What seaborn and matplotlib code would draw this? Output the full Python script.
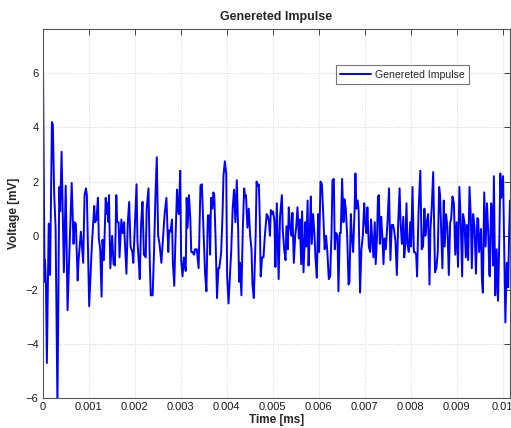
import numpy as np
import pandas as pd
import matplotlib
matplotlib.use("Agg")
import matplotlib.pyplot as plt
import seaborn as sns

# Sample period of the recorded trace (axis is labelled in ms)
dt = 1e-5

# Sample indices of the turning points of the trace
sample = [
    0, 4, 5, 7, 9, 13, 16, 20, 22, 25, 28, 32, 36, 38, 41, 46, 50, 54, 58, 63,
    67, 69, 72, 76, 78, 83, 88, 91, 94, 96, 101, 107, 112, 114, 117, 120, 122, 125, 128, 130,
    133, 137, 139, 141, 143, 144, 147, 151, 154, 157, 160, 162, 165, 167, 171, 174, 177, 178, 182, 185,
    188, 191, 195, 197, 201, 204, 206, 209, 211, 214, 217, 220, 224, 226, 230, 233, 235, 239, 242, 245,
    248, 251, 254, 258, 262, 265, 269, 273, 275, 278, 281, 283, 286, 288, 292, 294, 296, 299, 301, 304,
    307, 308, 311, 313, 315, 318, 321, 323, 326, 329, 331, 335, 339, 343, 346, 350, 353, 356, 359, 362,
    364, 366, 369, 371, 373, 376, 379, 382, 384, 388, 391, 393, 396, 399, 401, 404, 407, 410, 413, 416,
    419, 422, 425, 427, 429, 432, 435, 438, 440, 442, 445, 448, 451, 454, 456, 459, 463, 465, 467, 470,
    472, 474, 477, 480, 483, 487, 490, 492, 494, 496, 499, 501, 504, 506, 509, 513, 516, 520, 522, 525,
    528, 530, 533, 535, 538, 541, 543, 546, 549, 551, 554, 557, 559, 562, 564, 567, 571, 573, 576, 578,
    581, 583, 585, 588, 591, 593, 596, 599, 601, 604, 607, 610, 613, 616, 619, 622, 625, 628, 630, 633,
    635, 638, 641, 643, 646, 648, 651, 654, 656, 659, 662, 665, 667, 670, 672, 675, 678, 680, 682, 685,
    687, 690, 693, 696, 699, 701, 704, 706, 709, 712, 714, 716, 719, 722, 724, 727, 729, 731, 733, 736,
    738, 741, 743, 746, 750, 753, 756, 759, 762, 764, 767, 770, 773, 776, 778, 781, 784, 786, 788, 791,
    793, 796, 799, 801, 804, 807, 809, 812, 814, 817, 821, 824, 827, 830, 832, 835, 838, 841, 843, 846,
    849, 853, 856, 859, 862, 864, 867, 869, 872, 874, 877, 880, 883, 886, 888, 891, 894, 897, 900, 903,
    906, 909, 912, 914, 917, 920, 922, 925, 928, 931, 933, 936, 939, 942, 945, 947, 949, 953, 955, 957,
    960, 963, 966, 969, 971, 972, 975, 977, 979, 981, 984, 987, 990, 993, 995, 997, 999, 1001, 1004, 1006,
    1009, 1012, 1014, 1016,
]

# Voltage in mV at each of those samples
voltage = [
    7.7, -1.7, -0.9, -1.8, -4.7, 0.45, -1.45, 4.2, 4.1, 1.5, 0.3, -6.3, 1.8, 0.9, 3.1, -1.35, 1.85, -2.75, -0.6, 1.95,
    -0.3, 0.5, 0.45, -1.65, -0.9, 0.15, -1.0, 1.5, 1.75, 1.5, -2.6, -0.3, 1.1, 0.5, 0.6, 1.4, -0.1, -0.5, -2.25, -0.15,
    -0.9, 1.4, 0.8, 1.2, 0.5, 1.5, -1.2, 0.0, -1.05, -1.1, 1.5, 0.5, 0.5, -0.8, 0.6, 0.1, 0.5, 0.0, -1.4, 0.5,
    1.25, -0.4, -0.6, -1.0, 0.7, 1.9, -0.2, -1.0, -1.6, 0.5, 1.25, -0.7, -0.8, 1.0, 1.75, -1.1, -2.2, -2.2, -0.6, 1.4,
    2.9, 0.0, -0.3, -1.0, 0.0, 0.8, 1.4, -0.6, 0.2, 0.15, 0.6, -1.0, -1.85, -0.5, 1.7, 1.0, 0.8, 2.4, -0.9, -1.5,
    -0.8, -1.0, -1.3, 1.4, 0.3, 1.5, 0.6, -0.6, -0.6, -0.7, -0.5, -0.5, -1.2, 1.85, 1.9, 0.0, -1.4, -2.05, 0.75, 0.75,
    -0.7, 1.4, 1.0, 1.6, 1.5, -0.2, -2.3, -1.2, -1.2, -0.6, 0.8, 2.2, 2.75, 2.3, -1.5, -2.5, -1.5, -0.5, 1.0, 1.7,
    0.5, 2.05, 0.2, -1.7, -1.0, -2.2, 0.2, 1.75, 1.45, 1.5, 0.3, 1.0, 0.0, -0.5, -1.8, -2.3, 0.0, 2.0, 1.85, 1.9,
    0.6, -1.5, -0.8, -0.8, 0.0, 0.8, 0.7, 0.5, 0.0, 0.95, 0.8, 0.9, 0.5, -1.15, 1.2, -1.6, 0.7, 1.5, 0.2, -0.5,
    -0.9, 0.35, -0.5, 1.05, 0.3, 0.0, 0.85, -1.0, 0.0, 0.3, 1.05, -0.1, 0.6, -1.05, 0.9, -1.35, 0.5, -0.4, 1.3, -1.1,
    0.3, 1.45, -0.3, 0.8, 0.0, -0.8, -1.55, 0.8, -0.6, 2.0, 1.9, 0.8, -0.5, 0.0, -0.6, -1.6, -1.5, 0.1, 2.05, 2.1,
    -0.5, 0.1, 0.0, -2.05, 0.1, 0.1, 2.1, 0.5, 1.35, 1.0, 0.0, -1.8, -1.7, 0.8, 0.0, -0.6, 0.9, 2.3, 1.0, 1.3,
    0.9, -2.1, -0.5, 0.0, 1.2, 0.5, 0.1, 1.05, -0.4, -0.6, 0.6, 0.0, -0.8, 0.5, -1.05, 0.0, 1.45, 1.5, -0.3, 0.7,
    0.1, -1.05, -0.1, -0.5, 0.6, 1.75, -0.9, 0.4, 0.4, 0.2, -0.2, -1.45, 0.5, 1.75, 0.5, -0.3, 0.7, -0.8, -0.4, 1.2,
    -0.3, -0.6, 0.5, -0.4, 1.8, -0.6, -0.6, -0.7, -1.5, 0.8, 2.4, -0.5, -0.4, 1.0, 0.0, 0.5, 0.8, -1.8, 0.2, 1.1,
    2.35, -1.35, -1.2, -0.6, 1.8, 1.5, -0.2, -1.2, 1.3, -0.4, 0.8, 0.3, -1.45, 0.5, 0.6, 1.45, 1.2, -0.7, 0.5, -1.15,
    1.8, 0.5, -1.5, 0.8, 0.5, -0.8, 0.4, -0.9, 1.8, 0.6, -1.2, 0.8, 0.3, -1.4, 0.65, 0.6, -0.6, 0.25, -1.6, -2.1,
    1.6, -0.4, 1.2, 0.0, -1.4, -1.5, 1.2, 1.0, -1.1, 2.2, -2.2, -0.5, -2.4, 0.0, 2.3, 1.4, 1.8, 2.2, -1.2, -3.2,
    -1.0, -1.9, 0.0, 1.3,
]

x_ticks = [0, 0.001, 0.002, 0.003, 0.004, 0.005, 0.006, 0.007, 0.008, 0.009, 0.01]
x_tick_labels = ["0", "0.001", "0.002", "0.003", "0.004", "0.005",
                 "0.006", "0.007", "0.008", "0.009", "0.01"]
y_ticks = [-6, -4, -2, 0, 2, 4, 6]

df = pd.DataFrame({"Time": np.array(sample) * dt, "Voltage": voltage})

sns.set_style("white")
plt.rcParams["font.family"] = ["Liberation Sans", "DejaVu Sans"]

fig = plt.figure(figsize=(5.11, 4.28), dpi=100)
ax = fig.add_axes([0.0836, 0.0694, 0.9144, 0.8621])

sns.lineplot(data=df, x="Time", y="Voltage", color="#0000ff", linewidth=1.4,
             label="Genereted Impulse", ax=ax, sort=False, estimator=None)

ax.set_xlim(0, 1016 * dt)
ax.set_ylim(-6, 7.62)
ax.set_xticks(x_ticks)
ax.set_xticklabels(x_tick_labels)
ax.set_yticks(y_ticks)
ax.tick_params(axis="both", direction="in", length=4, width=0.6, labelsize=8,
               color="#262626", labelcolor="#1a1a1a", top=True, right=True, pad=3)
ax.grid(True, color="#d4d4d4", linestyle=":", linewidth=0.7)
for s in ax.spines.values():
    s.set_color("#555555")
    s.set_linewidth(0.8)

ax.set_title("Genereted Impulse", fontsize=9, fontweight="bold", pad=7)
ax.set_xlabel("Time [ms]", fontsize=8.5, fontweight="bold", labelpad=1)
ax.set_ylabel("Voltage [mV]", fontsize=8.5, fontweight="bold", labelpad=4)

leg = ax.legend(loc="upper left", bbox_to_anchor=(0.628, 0.902), fontsize=7.6,
                frameon=True, fancybox=False, handlelength=2.9,
                borderpad=0.4, handletextpad=0.35, borderaxespad=0)
leg.get_frame().set_edgecolor("#555555")
leg.get_frame().set_linewidth(0.8)

fig.savefig("out.png", dpi=100)
